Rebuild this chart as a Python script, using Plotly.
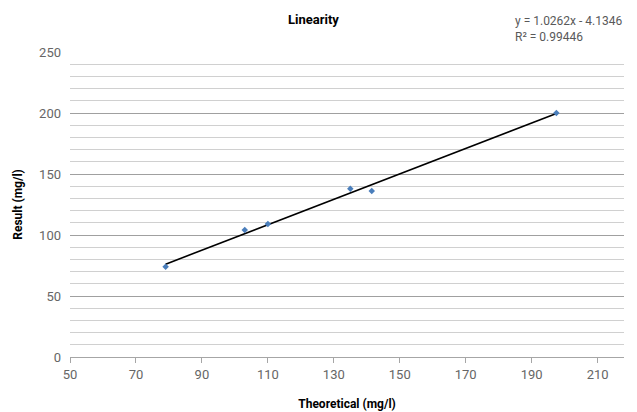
import numpy as np
import plotly.graph_objects as go

# Data
theoretical = [79, 103, 110, 135, 141.5, 197.5]
result = [74, 104, 109, 138, 136, 200]
x_ticks = [50, 70, 90, 110, 130, 150, 170, 190, 210]
y_ticks = [0, 50, 100, 150, 200, 250]
title_text = "Linearity"
x_title = "Theoretical (mg/l)"
y_title = "Result (mg/l)"
equation_lines = ["y = 1.0262x - 4.1346", "R² = 0.99446"]

FONT = "Roboto, Arial, sans-serif"

slope, intercept = np.polyfit(theoretical, result, 1)
tx = [min(theoretical), max(theoretical)]
ty = [slope * v + intercept for v in tx]

fig = go.Figure()
fig.add_trace(go.Scatter(
    x=tx, y=ty, mode="lines",
    line=dict(color="black", width=1.6),
    hoverinfo="skip", showlegend=False,
))
fig.add_trace(go.Scatter(
    x=theoretical, y=result, mode="markers",
    marker=dict(symbol="diamond", size=5, color="#4a7ebb"),
    showlegend=False,
))

fig.update_layout(
    width=637, height=412,
    margin=dict(l=70, r=13, t=52, b=55),
    paper_bgcolor="white", plot_bgcolor="white",
    font=dict(family=FONT, color="#595959", size=13),
    title=dict(text="<b>" + title_text + "</b>", x=0.492, xanchor="center",
               y=0.952, yanchor="middle",
               font=dict(family=FONT, size=13, color="black")),
    xaxis=dict(
        range=[50, 218], tickvals=x_ticks, ticktext=[str(v) for v in x_ticks],
        showgrid=False, zeroline=False, automargin=False,
        showline=True, linecolor="#a6a6a6", linewidth=1,
        ticks="outside", ticklen=5, tickcolor="#a6a6a6",
        tickfont=dict(size=13, color="#666666"),
        title=dict(text="<b>" + x_title + "</b>", standoff=19,
                   font=dict(family=FONT, size=12, color="black")),
    ),
    yaxis=dict(
        range=[0, 250], tickvals=y_ticks, ticktext=[str(v) for v in y_ticks],
        showgrid=True, gridcolor="#a0a0a0", gridwidth=1,
        zeroline=False, showline=False, ticks="", ticklabelstandoff=8,
        automargin=False,
        tickfont=dict(size=13, color="#666666"),
        minor=dict(dtick=10, showgrid=True, gridcolor="#d0d0d0", gridwidth=1),
        title=dict(text="<b>" + y_title + "</b>", standoff=13,
                   font=dict(family=FONT, size=12, color="black")),
    ),
)

fig.add_annotation(
    xref="paper", yref="paper", x=1.0, y=1.0, xanchor="right", yanchor="bottom",
    text="<br>".join(equation_lines), showarrow=False, align="left",
    font=dict(family=FONT, size=12, color="#595959"), yshift=6, xshift=0,
)

fig.write_html("out.html", config={"displayModeBar": False},
               post_script="document.body.style.margin='0';")
